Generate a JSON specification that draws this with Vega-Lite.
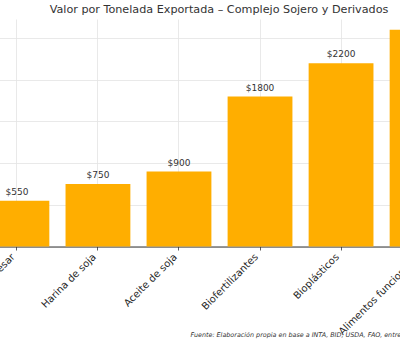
{
  "$schema": "https://vega.github.io/schema/vega-lite/v6.json",
  "autosize": {"type": "none"},
  "width": 400,
  "height": 227.5,
  "padding": {"left": 0, "right": 0, "top": 19, "bottom": 96.5},
  "background": "white",
  "title": {
    "text": "Valor por Tonelada Exportada – Complejo Sojero y Derivados",
    "font": "DejaVu Sans",
    "fontSize": 11.2,
    "fontWeight": "normal",
    "color": "#333333",
    "anchor": "middle",
    "dx": 19,
    "offset": 2
  },
  "data": {
    "values": [
      {"producto": "Soja sin procesar", "valor": 550},
      {"producto": "Harina de soja", "valor": 750},
      {"producto": "Aceite de soja", "valor": 900},
      {"producto": "Biofertilizantes", "valor": 1800},
      {"producto": "Bioplásticos", "valor": 2200},
      {"producto": "Alimentos funcionales", "valor": 2600}
    ]
  },
  "encoding": {
    "x": {
      "field": "producto",
      "type": "nominal",
      "sort": null,
      "scale": {"range": [-39, 478], "paddingInner": 0.2, "paddingOuter": 0.29},
      "axis": {
        "title": "Fuente: Elaboración propia en base a INTA, BID, USDA, FAO, entre otros.",
        "titleFont": "DejaVu Sans",
        "titleFontSize": 6.4,
        "titleFontStyle": "italic",
        "titleFontWeight": "normal",
        "titleColor": "#333333",
        "titleAlign": "left",
        "titleAnchor": "start",
        "titleAngle": 0,
        "titleBaseline": "middle",
        "titleX": 190,
        "titleY": 87.5,
        "labelAngle": -45,
        "labelAlign": "right",
        "labelBaseline": "bottom",
        "labelFont": "DejaVu Sans",
        "labelFontSize": 10,
        "labelColor": "#262626",
        "labelPadding": 8.5,
        "bandPosition": 0.5,
        "grid": true,
        "gridColor": "#e3e3e3",
        "gridWidth": 0.8,
        "domainColor": "#333333",
        "domainWidth": 1,
        "tickColor": "#333333",
        "tickSize": 3.5,
        "tickWidth": 0.8,
        "labelOverlap": false
      }
    },
    "y": {
      "field": "valor",
      "type": "quantitative",
      "scale": {"domain": [0, 2730], "nice": false},
      "axis": {
        "title": null,
        "values": [0, 500, 1000, 1500, 2000, 2500],
        "labels": false,
        "ticks": false,
        "domain": false,
        "grid": true,
        "gridColor": "#e3e3e3",
        "gridWidth": 0.8
      }
    }
  },
  "layer": [
    {"mark": {"type": "bar", "color": "#FFAE00"}},
    {
      "mark": {"type": "text", "baseline": "bottom", "dy": -4, "font": "DejaVu Sans", "fontSize": 9, "color": "#333333"},
      "encoding": {"text": {"field": "valor", "type": "quantitative", "format": "$d"}}
    }
  ],
  "config": {"view": {"stroke": null}}
}
